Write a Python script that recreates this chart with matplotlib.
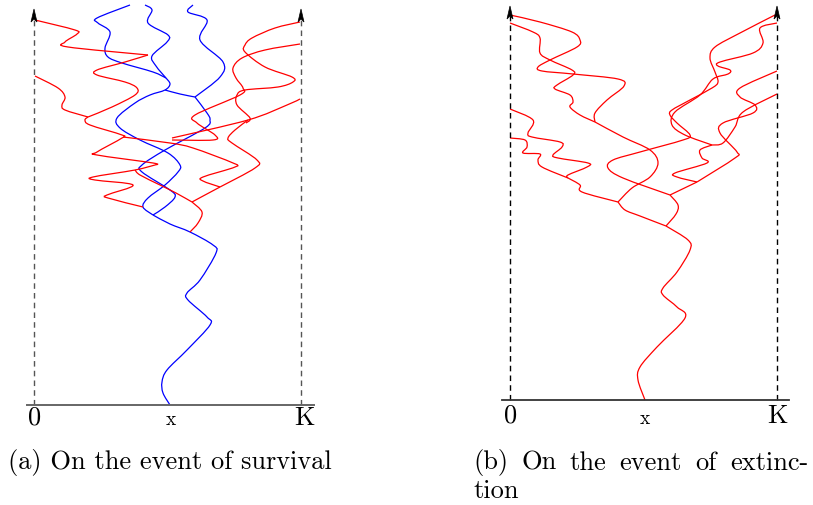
import numpy as np
import matplotlib
matplotlib.use('Agg')
import matplotlib.pyplot as plt
from matplotlib.path import Path
from matplotlib.patches import PathPatch, Polygon

# ---------------- panel (a): survival, traced path points (x, y) in picture units ----------------
a_blue_trunk = [(170, 405), (163, 393), (162, 382), (167, 370), (187, 350), (210, 325), (207, 317),
                (188, 300), (187, 293), (200, 280), (216, 253), (213, 245), (190, 232), (170, 224), (153, 215)]
a_blue_a = [(153, 215), (143, 207), (148, 198), (165, 185), (178, 172), (180, 165), (168, 153),
            (140, 140), (120, 128), (117, 118), (135, 103), (150, 95), (165, 90), (170, 84), (166, 78)]
a_blue_b = [(153, 215), (165, 207), (175, 197), (170, 190), (142, 172), (142, 165), (165, 150),
            (205, 128), (210, 120), (207, 113), (195, 97)]
a_blue_link = [(165, 90), (180, 94), (195, 97)]
a_blue_1 = [(130, 5), (97, 18), (98, 23), (110, 32), (105, 48), (108, 57), (122, 63), (153, 72), (166, 78)]
a_blue_2 = [(145, 5), (152, 10), (148, 23), (168, 35), (167, 42), (152, 56), (156, 66), (166, 78)]
a_blue_3 = [(193, 5), (188, 12), (207, 20), (200, 40), (223, 62), (220, 77), (195, 97)]

a_red_1 = [(35, 20), (75, 30), (77, 34), (65, 42), (68, 47), (148, 55)]
a_red_2 = [(148, 55), (125, 62), (97, 70), (97, 75), (125, 82), (137, 88), (135, 95), (112, 107), (88, 117)]
a_red_3 = [(35, 76), (58, 88), (65, 97), (62, 105), (65, 110), (88, 117)]
a_red_4 = [(88, 117), (85, 120), (90, 125), (122, 135), (122, 138), (97, 152), (97, 155), (153, 163), (155, 165)]
a_red_5 = [(155, 165), (135, 170), (93, 177), (95, 180), (133, 185), (107, 195), (108, 198), (143, 207)]
a_red_6 = [(190, 232), (198, 223), (202, 212), (192, 202)]
a_red_7 = [(192, 202), (176, 193), (160, 185), (140, 175), (135, 170)]
a_red_8 = [(192, 202), (205, 195), (220, 187)]
a_red_9 = [(220, 187), (203, 181), (203, 177), (235, 167), (233, 163), (193, 148), (170, 143), (123, 137)]
a_red_10 = [(220, 187), (255, 168), (257, 160), (232, 143), (228, 138), (235, 130), (248, 120)]
a_red_11 = [(172, 138), (248, 120), (287, 105), (300, 99)]
a_red_12 = [(300, 22), (275, 28), (252, 38), (245, 45), (245, 52), (265, 67), (292, 77), (293, 82),
            (278, 87), (245, 90), (237, 95), (237, 105), (250, 118), (246, 123)]
a_red_13 = [(300, 44), (265, 50), (242, 58), (233, 68), (236, 78), (243, 88), (240, 95), (195, 115),
            (197, 123), (215, 135), (213, 140), (172, 140)]

# ---------------- panel (b): extinction ----------------
b_trunk = [(645, 400), (638, 380), (640, 367), (657, 347), (685, 318), (677, 307), (663, 295),
           (663, 288), (677, 272), (690, 250), (688, 240), (666, 226)]
b_left = [(666, 226), (640, 216), (625, 210), (618, 202)]
b_right = [(666, 226), (676, 214), (678, 205), (670, 195)]
b_up = [(618, 202), (632, 188), (650, 177), (658, 163), (650, 150), (623, 137), (595, 122)]
b_lowleft = [(618, 202), (582, 192), (580, 185), (568, 178)]
b_L1 = [(510, 15), (540, 22), (572, 32), (580, 40), (577, 47), (550, 60), (538, 67), (542, 71),
        (573, 74), (618, 79), (624, 86), (607, 100), (595, 113), (595, 122)]
b_L2 = [(510, 23), (533, 32), (540, 38), (540, 53), (550, 60), (572, 70), (573, 75), (557, 85),
        (555, 89), (570, 95), (573, 102), (570, 107), (580, 115), (595, 122)]
b_L3 = [(510, 109), (533, 120), (528, 133), (532, 137), (560, 142), (562, 147), (553, 155),
        (558, 158), (588, 163), (587, 167), (568, 175), (568, 178)]
b_L4 = [(510, 138), (525, 140), (527, 147), (523, 153), (540, 154), (538, 160), (542, 167), (568, 178)]
b_R1 = [(775, 15), (740, 33), (715, 47), (710, 58), (715, 72), (718, 82), (712, 88), (690, 100),
        (672, 110), (670, 115), (677, 123), (690, 135), (683, 140), (640, 152), (613, 160),
        (608, 168), (623, 178), (670, 195)]
b_R2 = [(777, 23), (760, 28), (763, 43), (753, 53), (720, 62), (718, 66), (730, 70), (728, 74),
        (713, 79), (700, 95), (675, 112), (672, 125), (685, 135), (712, 145)]
b_R3 = [(777, 71), (740, 88), (740, 97), (755, 105), (753, 113), (723, 123), (720, 133),
        (737, 152), (735, 158), (697, 182)]
b_R4 = [(777, 94), (743, 112), (735, 127), (723, 143), (712, 145)]
b_D = [(712, 145), (700, 150), (702, 158), (707, 163), (675, 173), (677, 177), (697, 182)]
b_E = [(697, 182), (670, 195)]

a_blue = [a_blue_trunk, a_blue_a, a_blue_b, a_blue_link, a_blue_1, a_blue_2, a_blue_3]
a_red = [a_red_1, a_red_2, a_red_3, a_red_4, a_red_5, a_red_6, a_red_7, a_red_8, a_red_9,
         a_red_10, a_red_11, a_red_12, a_red_13]
b_red = [b_trunk, b_left, b_right, b_up, b_lowleft, b_L1, b_L2, b_L3, b_L4,
         b_R1, b_R2, b_R3, b_R4, b_D, b_E]

caption_a = '(a) On the event of survival'
caption_b1 = ['(b)', 'On', 'the', 'event', 'of', 'extinc-']
caption_b2 = 'tion'


def smooth(pts):
    # catmull-rom through the traced points, drawn as bezier pieces
    p = np.array(pts, dtype=float)
    n = len(p)
    verts = [p[0]]
    codes = [Path.MOVETO]
    for i in range(n - 1):
        p0 = p[i - 1] if i > 0 else p[i]
        p3 = p[i + 2] if i + 2 < n else p[i + 1]
        verts += [p[i] + (p[i + 1] - p0) / 6, p[i + 1] - (p3 - p[i]) / 6, p[i + 1]]
        codes += [Path.CURVE4] * 3
    return Path(verts, codes)


fig = plt.figure(figsize=(8.13, 5.05), dpi=100)
ax = fig.add_axes([0, 0, 1, 1])
ax.set_xlim(0, 813)
ax.set_ylim(505, 0)
ax.axis('off')

for pts in a_blue:
    ax.add_patch(PathPatch(smooth(pts), fc='none', ec='#0000ff', lw=0.9))
for pts in a_red + b_red:
    ax.add_patch(PathPatch(smooth(pts), fc='none', ec='#ff0000', lw=0.9))

# boundaries 0 and K with arrows, and the base line
def boundary(x, y0, tip, col):
    ax.plot([x, x], [y0, tip + 10], ls=(0, (4, 3)), color=col, lw=1.0)
    ax.add_patch(Polygon([(x, tip), (x - 3, tip + 13), (x, tip + 10), (x + 3, tip + 13)],
                         closed=True, fc='black', ec='black', lw=0.5))

boundary(34, 405, 9, '#555555')
boundary(301, 405, 9, '#555555')
ax.plot([27, 314], [405, 405], color='#666666', lw=1.4)
boundary(510, 400, 6, 'black')
boundary(777, 400, 6, 'black')
ax.plot([502, 789], [400, 400], color='#333333', lw=1.3)

lab = dict(family='cmr10', ha='center', va='center', color='black')
ax.text(35, 418, '0', fontsize=19, **lab)
ax.text(171, 420, 'x', fontsize=14, **lab)
ax.text(304, 418, 'K', fontsize=19, **lab)
ax.text(511, 416, '0', fontsize=19, **lab)
ax.text(645, 419, 'x', fontsize=14, **lab)
ax.text(777, 416, 'K', fontsize=19, **lab)

cap = dict(family='cmr10', ha='left', va='center', fontsize=19, color='black')
ax.text(8, 463, caption_a, **cap)

# justified first line of caption (b): spread the words between 473 and 808
fig.canvas.draw()
rend = fig.canvas.get_renderer()
inv = ax.transData.inverted()
objs = [ax.text(0, 463, w, **cap) for w in caption_b1]
widths = []
for t in objs:
    bb = t.get_window_extent(rend)
    x0 = inv.transform((bb.x0, bb.y0))[0]
    x1 = inv.transform((bb.x1, bb.y0))[0]
    widths.append(x1 - x0)
gap = (808 - 473 - sum(widths)) / (len(objs) - 1)
xpos = 473
for t, w in zip(objs, widths):
    t.set_x(xpos)
    xpos += w + gap
ax.text(473, 491, caption_b2, **cap)

fig.savefig('out.png', dpi=100)
